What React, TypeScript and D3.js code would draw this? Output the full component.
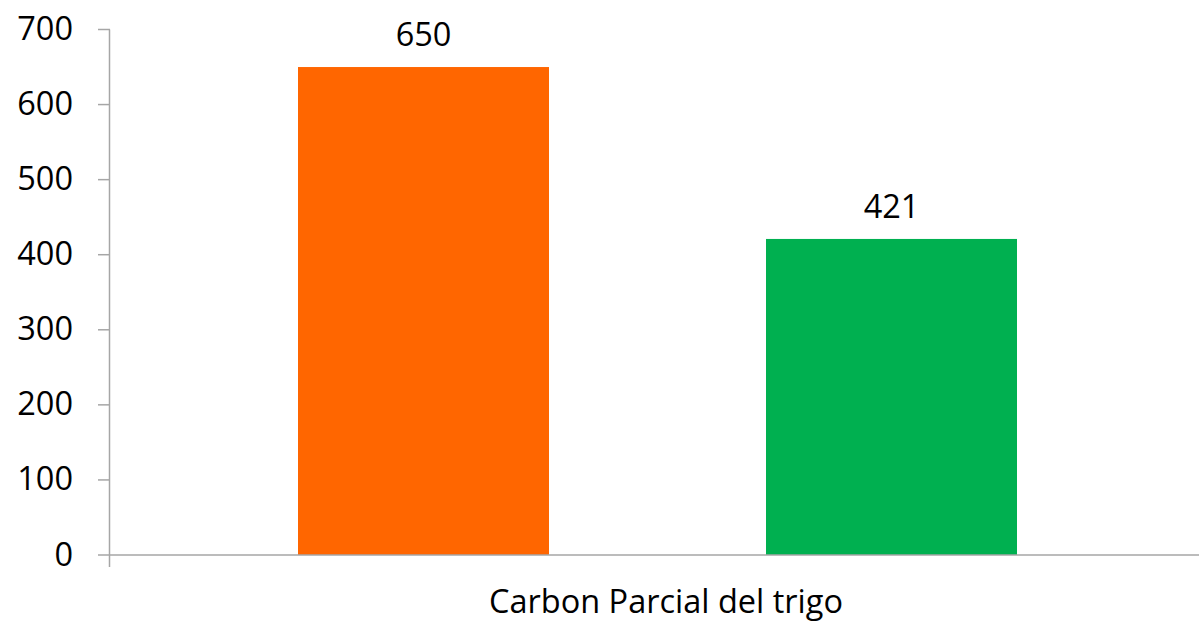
import React from "react";
import * as d3 from "d3";

const category = "Carbon Parcial del trigo";
const seriesNames = ["Serie 1", "Serie 2"];
const seriesValues = [650, 421];
const seriesColors = ["#FF6600", "#00B050"];
const yTicks = [0, 100, 200, 300, 400, 500, 600, 700];

const W = 1199;
const H = 622;
const FONT = "'Open Sans', sans-serif";
const FS = 32.5;

export default function App() {
  const y = d3.scaleLinear().domain([0, 700]).range([555, 29.5]);
  const x = d3
    .scaleBand<string>()
    .domain(seriesNames)
    .range([298, 1017])
    .paddingInner(217 / 468)
    .paddingOuter(0);
  const axisColor = "#A6A6A6";
  return (
    <svg width={W} height={H} style={{ position: "absolute", left: 0, top: 0 }}>
      <rect width={W} height={H} fill="#fff" />
      {seriesNames.map((s, i) => (
        <rect
          key={s}
          x={x(s)}
          y={y(seriesValues[i])}
          width={x.bandwidth()}
          height={y(0) - y(seriesValues[i])}
          fill={seriesColors[i]}
        />
      ))}
      {seriesNames.map((s, i) => (
        <text
          key={s + "l"}
          x={(x(s) as number) + x.bandwidth() / 2}
          y={y(seriesValues[i]) - 21}
          textAnchor="middle"
          fontFamily={FONT}
          fontSize={FS}
          fill="#000"
        >
          {seriesValues[i]}
        </text>
      ))}
      <line x1={109.5} x2={109.5} y1={29.5} y2={567} stroke={axisColor} strokeWidth={1.5} />
      <line x1={109} x2={W} y1={555} y2={555} stroke={axisColor} strokeWidth={1.5} />
      {yTicks.map((t) => (
        <g key={t}>
          <line x1={98} x2={110} y1={y(t)} y2={y(t)} stroke={axisColor} strokeWidth={1.5} />
          <text x={73} y={y(t) + 10.5} textAnchor="end" fontFamily={FONT} fontSize={FS} fill="#000">
            {t}
          </text>
        </g>
      ))}
      <text x={666} y={613} textAnchor="middle" fontFamily={FONT} fontSize={FS} fill="#000">
        {category}
      </text>
    </svg>
  );
}
